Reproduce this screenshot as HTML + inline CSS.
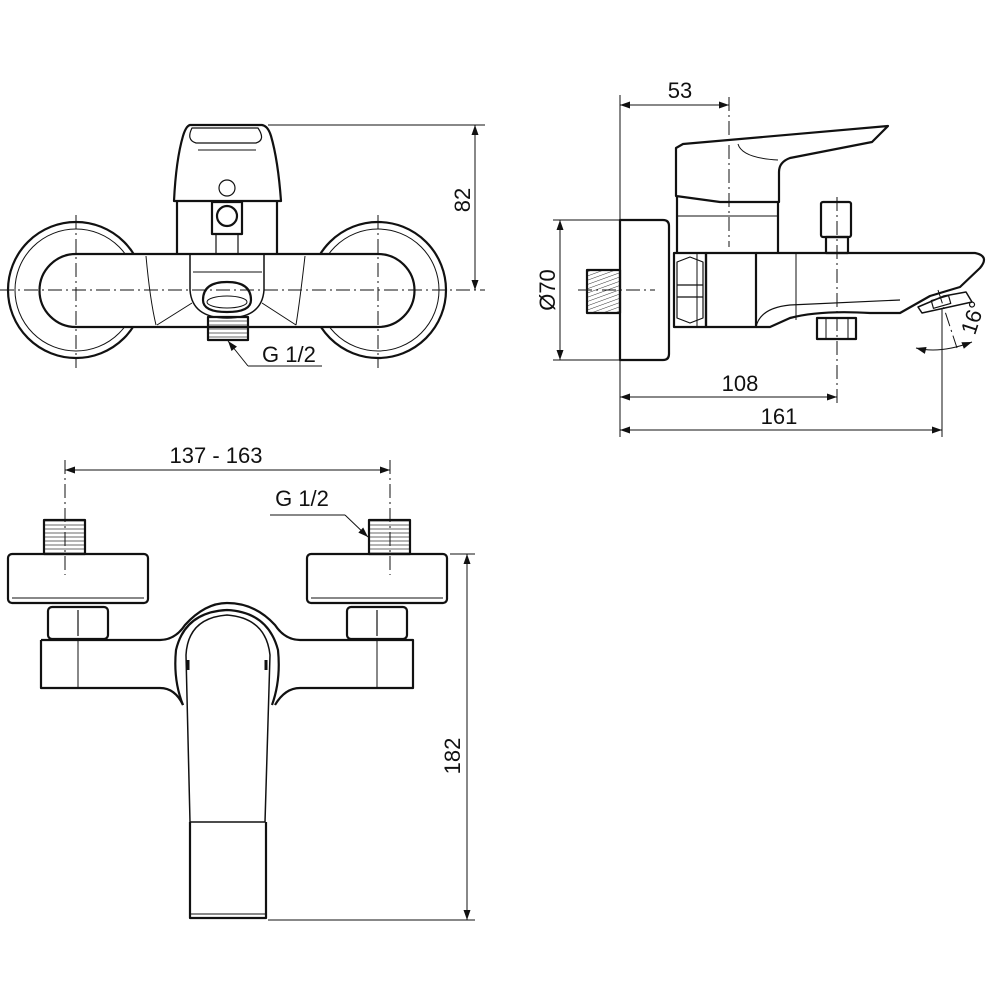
<!DOCTYPE html>
<html><head><meta charset="utf-8"><style>body{margin:0;background:#fff}svg{display:block}text{font-family:"Liberation Sans",sans-serif;fill:#111}</style></head><body>
<svg width="1000" height="1000" viewBox="0 0 1000 1000" xmlns="http://www.w3.org/2000/svg">
<defs>
<marker id="a" viewBox="0 0 10 10" refX="10" refY="5" markerWidth="15" markerHeight="10" orient="auto-start-reverse" markerUnits="userSpaceOnUse"><path d="M0,1.5L10,5L0,8.5z" fill="#111"/></marker>
<pattern id="h" width="4" height="4" patternUnits="userSpaceOnUse" patternTransform="rotate(70)"><line x1="0" y1="0" x2="0" y2="4" stroke="#333" stroke-width="1"/></pattern>
<pattern id="hh" width="4" height="4" patternUnits="userSpaceOnUse"><line x1="0" y1="1" x2="4" y2="1" stroke="#444" stroke-width="0.8"/></pattern>
</defs>
<g fill="none" stroke="#111" stroke-width="2.2" stroke-linejoin="round">
<!-- TOP LEFT -->
<circle cx="76" cy="290" r="68"/>
<circle cx="378" cy="290" r="68"/>
<circle cx="76" cy="290" r="61" stroke-width="1"/>
<circle cx="378" cy="290" r="61" stroke-width="1"/>
<path d="M76,254 H378 A36.5,36.5 0 0 1 378,327 H76 A36.5,36.5 0 0 1 76,254 Z" fill="#fff"/>
<path d="M146,256 Q150,300 156,325 M305,256 Q300,300 296,325 M157,325 L192,303 M296,325 L262,303" stroke-width="1"/>
<path d="M190,254 V290 Q192,318 227,318 Q262,318 264,290 V254" stroke-width="1.5"/>
<line x1="193" y1="272" x2="262" y2="272" stroke-width="1"/>
<path d="M203,300 Q203,282 227,282 Q251,282 251,300 Q251,312 227,312 Q203,312 203,300Z"/>
<ellipse cx="227" cy="302" rx="20" ry="6" stroke-width="1"/>
<rect x="208" y="317" width="40" height="23" fill="url(#hh)"/>
<path d="M177,201 V254 M277,201 V254" />
<path d="M190,125 H262 Q268,126 271,136 Q278,160 281,201 H174 Q176,160 183,136 Q186,126 190,125Z" fill="#fff"/>
<path d="M192,128 H258 Q266,140 256,143 H196 Q186,140 192,128Z" stroke-width="1.2"/>
<path d="M198,150 H256" stroke-width="1"/>
<circle cx="227" cy="188" r="8" stroke-width="1.2"/>
<rect x="212" y="202" width="30" height="32"/>
<circle cx="227" cy="216" r="10"/>
<rect x="216" y="234" width="22" height="20" stroke-width="1.2"/>
<!-- TOP RIGHT -->
<path d="M620,220 H663 Q669,220 669,226 V354 Q669,360 663,360 H620Z"/>
<rect x="587" y="270" width="33" height="43" fill="url(#h)"/>
<rect x="674" y="253" width="32" height="74"/>
<path d="M677,262 L690,257 L703,262 V318 L690,323 L677,318Z M677,285 H703 M677,297 H703" stroke-width="1.2"/>
<rect x="706" y="253" width="50" height="74"/>
<line x1="697" y1="253" x2="697" y2="327" stroke-width="1"/>
<path d="M756,253 H975 Q990,256 980,268 L960,287 L930,296 L900,313 L870,313 Q820,310 790,318 L770,327 H756"/>
<path d="M756,327 Q760,308 790,305 L900,300" stroke-width="1.2"/>
<line x1="796" y1="253" x2="796" y2="320" stroke-width="1"/>
<path d="M918,307 L944,296 L966,292 L972,302 L922,313Z" stroke-width="1.5"/>
<rect x="932" y="298" width="18" height="8" transform="rotate(-16 941 302)" stroke-width="1.2"/>
<rect x="817" y="318" width="39" height="21"/>
<path d="M826,318 V339 M848,318 V339" stroke-width="1"/>
<path d="M677,197 V253 M778,200 V253"/>
<line x1="677" y1="216" x2="778" y2="216" stroke-width="1"/>
<path d="M676,148 L683,144 L888,126 L872,142 L790,158 Q779,162 779,172 V202 L720,202 L676,196Z" fill="#fff"/>
<path d="M738,144 Q742,158 778,160" stroke-width="1"/>
<rect x="821" y="202" width="30" height="35" rx="2"/>
<rect x="826" y="237" width="22" height="16"/>
<!-- BOTTOM -->
<rect x="8" y="554" width="140" height="49" rx="4"/>
<rect x="307" y="554" width="140" height="49" rx="4"/>
<line x1="12" y1="598" x2="144" y2="598" stroke-width="1"/>
<line x1="311" y1="598" x2="443" y2="598" stroke-width="1"/>
<rect x="44" y="520" width="41" height="34" fill="url(#hh)"/>
<rect x="369" y="520" width="41" height="34" fill="url(#hh)"/>
<rect x="48" y="607" width="60" height="32" rx="4"/>
<rect x="347" y="607" width="60" height="32" rx="4"/>
<path d="M78,610 V636 M377,610 V636" stroke-width="1.2"/>
<path d="M41,640 H160 Q175,640 185,625 Q205,603 227,603 Q255,603 275,625 Q285,640 300,640 H413 V688 H300 Q285,688 275,705 M41,640 V688 H160 Q175,688 183,705" fill="#fff"/>
<path d="M78,640 V688 M377,640 V688" stroke-width="1"/>
<path d="M183,705 Q173,680 176,650 Q185,612 227,610 Q268,612 278,650 Q281,680 272,705" />
<path d="M186,655 Q188,618 227,615 Q266,618 270,655 L265,822 H190Z" stroke-width="1.5"/>
<path d="M190,822 V918 H266 V822" />
<path d="M190,914 H266" stroke-width="1"/>
<path d="M188,660 V670 M266,660 V670" stroke-width="3"/>
</g>
<!-- centerlines & dimensions -->
<g fill="none" stroke="#111" stroke-width="1">
<g stroke-dasharray="14,4,2,4">
<line x1="0" y1="290" x2="485" y2="290"/>
<line x1="76" y1="215" x2="76" y2="368"/>
<line x1="378" y1="215" x2="378" y2="368"/>
<line x1="729" y1="97" x2="729" y2="247"/>
<line x1="578" y1="290" x2="655" y2="290"/>
<line x1="837" y1="197" x2="837" y2="405"/>
<line x1="65" y1="460" x2="65" y2="575"/>
<line x1="390" y1="460" x2="390" y2="575"/>
<line x1="938" y1="290" x2="957" y2="348"/>
</g>
<line x1="268" y1="125" x2="485" y2="125"/>
<line x1="475" y1="125" x2="475" y2="290" marker-start="url(#a)" marker-end="url(#a)"/>
<line x1="228" y1="341" x2="248" y2="366" marker-start="url(#a)"/>
<line x1="248" y1="366" x2="322" y2="366"/>
<line x1="620" y1="95" x2="620" y2="437"/>
<line x1="620" y1="105" x2="729" y2="105" marker-start="url(#a)" marker-end="url(#a)"/>
<line x1="553" y1="220" x2="620" y2="220"/>
<line x1="553" y1="360" x2="620" y2="360"/>
<line x1="560" y1="220" x2="560" y2="360" marker-start="url(#a)" marker-end="url(#a)"/>
<line x1="620" y1="397" x2="837" y2="397" marker-start="url(#a)" marker-end="url(#a)"/>
<line x1="942" y1="308" x2="942" y2="437"/>
<line x1="620" y1="430" x2="942" y2="430" marker-start="url(#a)" marker-end="url(#a)"/>
<path d="M916,348 Q940,354 972,342" marker-start="url(#a)" marker-end="url(#a)"/>
<line x1="65" y1="470" x2="390" y2="470" marker-start="url(#a)" marker-end="url(#a)"/>
<line x1="270" y1="515" x2="345" y2="515"/>
<line x1="345" y1="515" x2="368" y2="537" marker-end="url(#a)"/>
<line x1="450" y1="554" x2="475" y2="554"/>
<line x1="268" y1="920" x2="475" y2="920"/>
<line x1="467" y1="554" x2="467" y2="920" marker-start="url(#a)" marker-end="url(#a)"/>
</g>
<g font-size="22">
<text x="470" y="200" transform="rotate(-90 470 200)" text-anchor="middle">82</text>
<text x="262" y="362">G 1/2</text>
<text x="680" y="98" text-anchor="middle">53</text>
<text x="555" y="290" transform="rotate(-90 555 290)" text-anchor="middle">Ø70</text>
<text x="740" y="391" text-anchor="middle">108</text>
<text x="779" y="424" text-anchor="middle">161</text>
<text x="980" y="320" transform="rotate(-72 980 320)" text-anchor="middle">16°</text>
<text x="216" y="463" text-anchor="middle">137 - 163</text>
<text x="302" y="506" text-anchor="middle">G 1/2</text>
<text x="460" y="756" transform="rotate(-90 460 756)" text-anchor="middle">182</text>
</g>
</svg>
</body></html>
